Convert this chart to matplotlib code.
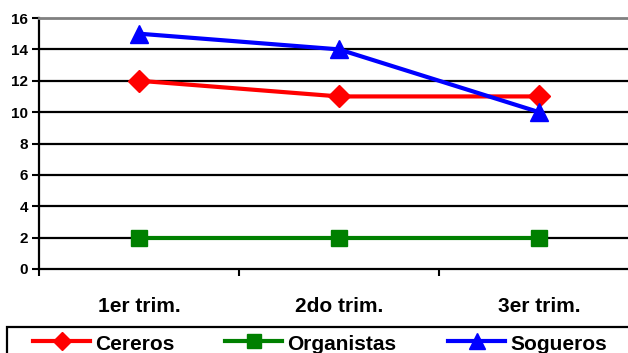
import matplotlib
matplotlib.use("Agg")
import matplotlib.pyplot as plt
from matplotlib.lines import Line2D
from matplotlib.patches import Rectangle
from matplotlib.ticker import FixedLocator, NullFormatter

plt.rcParams['font.family'] = ['Liberation Sans', 'DejaVu Sans']
plt.rcParams['font.weight'] = 'bold'

categories = ["1er trim.", "2do trim.", "3er trim."]
cereros = [12, 11, 11]
organistas = [2, 2, 2]
sogueros = [15, 14, 10]
y_ticks = [0, 2, 4, 6, 8, 10, 12, 14, 16]

W, H = 628, 353
fig = plt.figure(figsize=(W / 100, H / 100), dpi=100)
ax = fig.add_axes([39 / W, 1 - 269 / H, 600 / W, 251 / H])

series = [
    ("Cereros", cereros, '#ff0000', 'D', 11, 9),
    ("Organistas", organistas, '#008000', 's', 12, 10),
    ("Sogueros", sogueros, '#0000ff', '^', 13, 11),
]

x = [1, 2, 3]
for z, (name, vals, col, mk, ms, _) in enumerate(series):
    ax.plot(x, vals, color=col, lw=3, marker=mk, ms=ms, zorder=4 + z)

ax.set_xlim(0.5, 3.5)
ax.set_ylim(0, 16)
ax.set_yticks(y_ticks)
for v in y_ticks[1:-1]:
    ax.axhline(v, color='black', lw=1.6, zorder=1)

ax.set_xticks(x)
ax.set_xticklabels(categories, fontsize=15, fontweight='bold')
ax.tick_params(axis='x', which='major', length=0, pad=20)
ax.xaxis.set_minor_locator(FixedLocator([0.5, 1.5, 2.5, 3.5]))
ax.xaxis.set_minor_formatter(NullFormatter())
ax.tick_params(axis='x', which='minor', length=5, width=1.5, direction='out', color='black')
ax.tick_params(axis='y', length=5, width=1.5, direction='out', labelsize=11, pad=3)
for lab in ax.get_yticklabels():
    lab.set_fontweight('bold')

ax.spines['left'].set_linewidth(1.6)
ax.spines['bottom'].set_linewidth(1.6)
ax.spines['top'].set_color('#808080')
ax.spines['top'].set_linewidth(2)
ax.spines['right'].set_visible(False)

# Legend box along the bottom, drawn in pixel-based figure coordinates
def fx(px):
    return px / W

def fy(py):
    return 1 - py / H

fig.patches.append(Rectangle((fx(7), fy(360)), fx(640) - fx(7), fy(327) - fy(360),
                             transform=fig.transFigure, fill=False,
                             edgecolor='black', lw=1.6))
legend_x = [33, 225, 448]
for (name, vals, col, mk, ms, lms), x0 in zip(series, legend_x):
    fig.add_artist(Line2D([fx(x0), fx(x0 + 57)], [fy(341), fy(341)],
                          transform=fig.transFigure, color=col, lw=3))
    fig.add_artist(Line2D([fx(x0 + 28.5)], [fy(341)], transform=fig.transFigure,
                          color=col, marker=mk, ms=lms, lw=0))
    fig.text(fx(x0 + 62), fy(350), name, fontsize=15, fontweight='bold',
             ha='left', va='baseline')

fig.savefig('out.png', dpi=100)
